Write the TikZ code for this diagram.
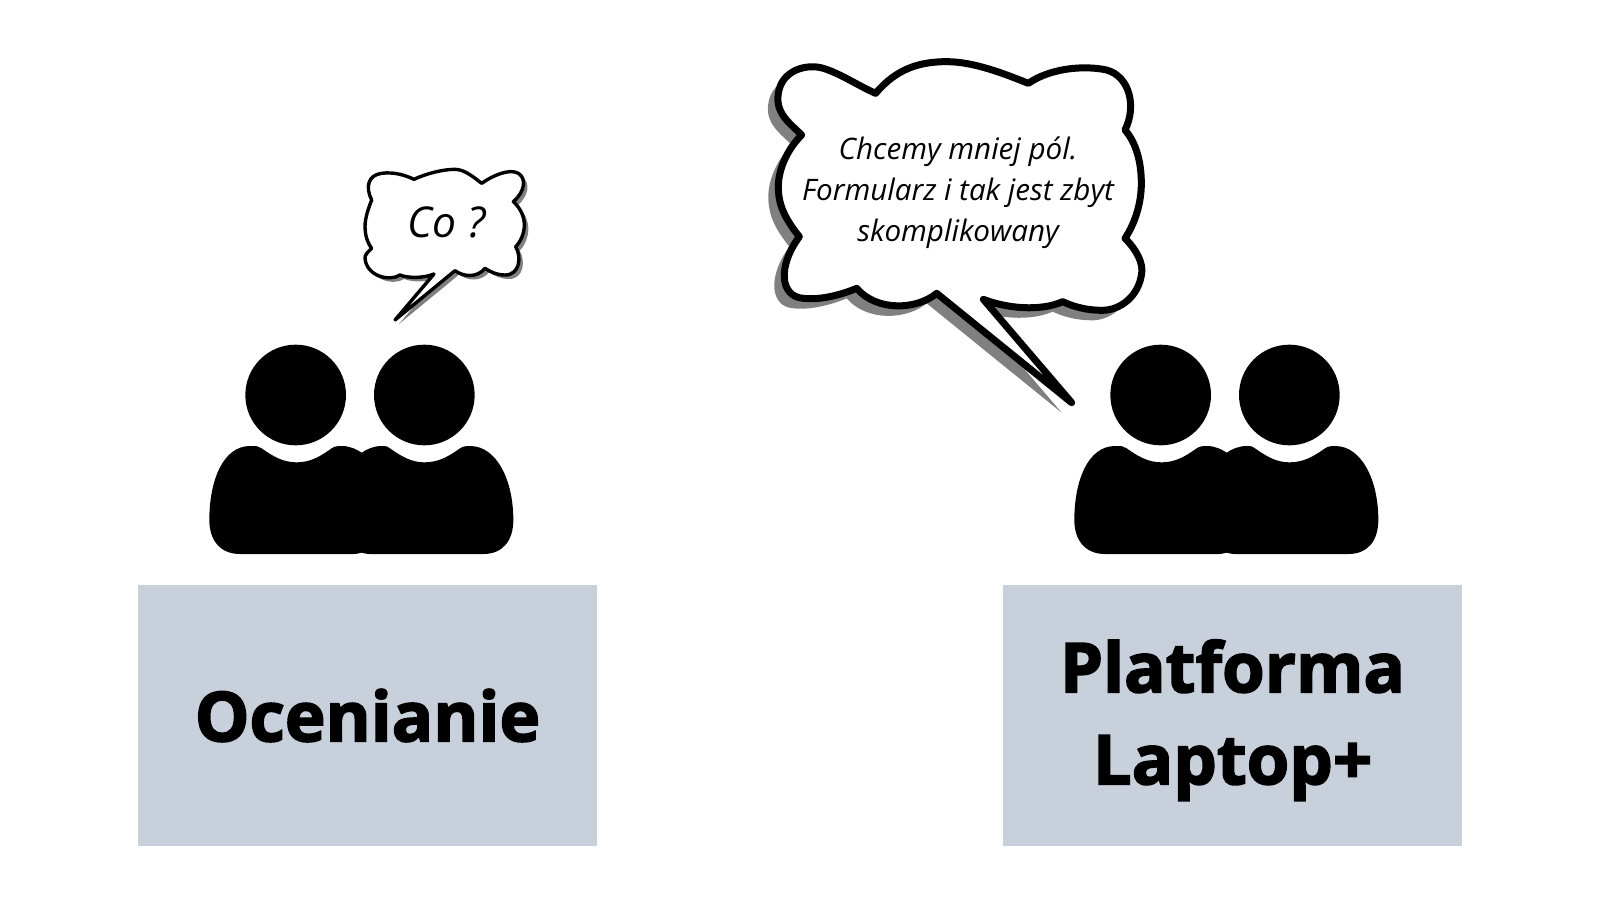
\documentclass[tikz,border=0pt]{standalone}
\usepackage{fontspec}
\setmainfont{Open Sans}
\newfontfamily\headfont[BoldFeatures={FakeBold=2.4}]{Open Sans}
\newcommand{\bigbubble}{
  (407,160) .. controls (470,85) and (540,65) .. (620,65)
  .. controls (700,65) and (790,100) .. (865,130)
  .. controls (930,85) and (1030,75) .. (1100,90)
  .. controls (1170,110) and (1190,200) .. (1155,270)
  .. controls (1190,310) and (1204,370) .. (1204,430)
  .. controls (1204,490) and (1185,550) .. (1155,595)
  .. controls (1190,630) and (1210,670) .. (1205,700)
  .. controls (1196,770) and (1140,811) .. (1086,811)
  .. controls (1040,811) and (1000,800) .. (968,785)
  .. controls (900,815) and (800,805) .. (730,778)
  -- (995,1088) -- (590,760)
  .. controls (530,810) and (410,815) .. (350,745)
  .. controls (290,770) and (230,780) .. (190,775)
  .. controls (120,770) and (112,680) .. (178,590)
  .. controls (130,530) and (115,490) .. (115,440)
  .. controls (115,390) and (140,330) .. (185,285)
  .. controls (150,250) and (105,220) .. (115,160)
  .. controls (125,90) and (200,70) .. (250,85)
  .. controls (300,100) and (360,140) .. (407,160) -- cycle}
\newcommand{\smallbubble}{
  (222,88) .. controls (260,70) and (310,58) .. (345,58)
  .. controls (375,58) and (405,85) .. (425,100)
  .. controls (460,75) and (510,55) .. (535,70)
  .. controls (560,85) and (555,125) .. (520,155)
  .. controls (542,175) and (553,200) .. (553,225)
  .. controls (553,250) and (542,275) .. (527,290)
  .. controls (545,320) and (540,375) .. (495,375)
  .. controls (470,375) and (450,365) .. (435,355)
  .. controls (410,385) and (370,380) .. (345,362)
  -- (165,510) -- (282,372)
  .. controls (250,385) and (205,385) .. (180,375)
  .. controls (150,395) and (80,380) .. (75,325)
  .. controls (73,315) and (85,305) .. (95,295)
  .. controls (80,275) and (75,250) .. (75,230)
  .. controls (75,205) and (85,175) .. (95,150)
  .. controls (75,110) and (85,75) .. (125,70)
  .. controls (160,65) and (195,75) .. (222,88) -- cycle}
\definecolor{boxgray}{RGB}{199,208,219}
\definecolor{shadowgray}{RGB}{128,128,128}
\tikzset{
  labelbox/.style={fill=boxgray,minimum width=459,minimum height=261,inner sep=0,align=center,font=\headfont\bfseries\fontsize{68.8}{92}\selectfont},
  quote/.style={align=center,inner sep=0},
  zoomunits/.style={x=0.33333pt,y=-0.33333pt},
  people/.pic={
    \fill[zoomunits] (317,195) circle [radius=151] (703,195) circle [radius=151];
    \fill[zoomunits] (150,672) .. controls (90,672) and (58,630) .. (58,570)
      .. controls (58,450) and (100,348) .. (180,348)
      .. controls (200,348) and (205,348) .. (215,355)
      .. controls (250,380) and (280,397) .. (320,397)
      .. controls (360,397) and (390,380) .. (425,355)
      .. controls (435,348) and (445,348) .. (455,348)
      .. controls (480,348) and (500,358) .. (515,368)
      .. controls (530,358) and (550,348) .. (575,348)
      .. controls (590,348) and (595,350) .. (600,355)
      .. controls (635,380) and (665,397) .. (703,397)
      .. controls (745,397) and (775,380) .. (810,355)
      .. controls (820,348) and (830,348) .. (840,348)
      .. controls (920,348) and (970,450) .. (970,570)
      .. controls (970,630) and (940,672) .. (880,672)
      -- (540,672) .. controls (525,672) and (520,668) .. (515,668)
      .. controls (510,668) and (505,672) .. (490,672) -- cycle;
  }
}
\begin{document}
\begin{tikzpicture}[x=1pt,y=-1pt]
  \useasboundingbox (0,0) rectangle (1600,900);
  % groups of people
  \pic at (190,330) {people};
  \pic at (1055,330) {people};
  % boxes
  \node (grading) [labelbox] at (367.5,715.5) {Ocenianie};
  \node (platform) [labelbox] at (1232.5,715.5) {\rule{0pt}{62pt}Platforma\\Laptop+};
  % big bubble
  \begin{scope}[shift={(740pt,-40pt)},zoomunits]
    \fill[shadowgray,shift={(-30,30)}] \bigbubble;
    \draw[line width=7pt,line join=round,fill=white] \bigbubble;
  \end{scope}
  \node (bigquote) [quote,font=\itshape\fontsize{29.6}{41}\selectfont] at (958,193) {Chcemy mniej pól.\\Formularz i tak jest zbyt\\skomplikowany};
  % small bubble
  \begin{scope}[shift={(340pt,-150pt)},zoomunits]
    \fill[shadowgray,shift={(12,12)}] \smallbubble;
    \draw[line width=3.4pt,line join=round,fill=white] \smallbubble;
  \end{scope}
  \node (smallquote) [quote,font=\itshape\fontsize{42.5}{50}\selectfont] at (447,222) {Co ?};
\end{tikzpicture}
\end{document}
